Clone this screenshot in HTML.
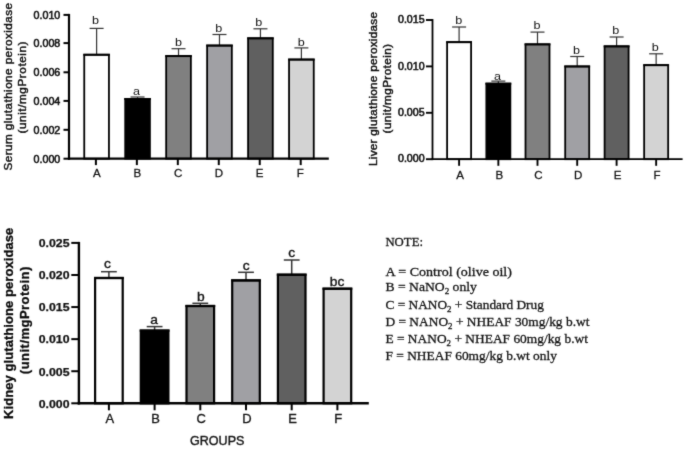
<!DOCTYPE html>
<html><head><meta charset="utf-8"><title>Glutathione peroxidase charts</title>
<style>
html,body{margin:0;padding:0;background:#fff;}
body{width:685px;height:449px;overflow:hidden;font-family:"Liberation Sans", sans-serif;}
svg{display:block;position:absolute;left:0;top:0;}
svg text{font-family:"Liberation Sans", sans-serif;fill:#111;}
svg text.nt{font-family:"Liberation Serif", serif;white-space:pre;}
</style></head>
<body>
<svg width="685" height="449" viewBox="0 0 685 449">
<defs><filter id="soft" x="0" y="0" width="685" height="449" filterUnits="userSpaceOnUse" color-interpolation-filters="sRGB"><feConvolveMatrix order="3" kernelMatrix="0.0200 0.0800 0.0200 0.0800 0.6000 0.0800 0.0200 0.0800 0.0200" divisor="1" bias="0" edgeMode="duplicate" preserveAlpha="true"/></filter></defs>
<g filter="url(#soft)">
<rect x="-5" y="-5" width="695" height="459" fill="#ffffff"/>
<line x1="96.60" y1="54.70" x2="96.60" y2="28.40" stroke="#333" stroke-width="1.2"/>
<line x1="89.60" y1="28.40" x2="103.60" y2="28.40" stroke="#333" stroke-width="1.2"/>
<rect x="84.25" y="54.70" width="24.70" height="104.00" fill="#ffffff" stroke="#000" stroke-width="1.8"/>
<line x1="83.35" y1="54.78" x2="109.85" y2="54.78" stroke="#000" stroke-width="1.95"/>
<text transform="translate(95.60,24.00) scale(1.2,1)" text-anchor="middle" font-size="10.5" font-weight="normal">b</text>
<line x1="137.56" y1="98.90" x2="137.56" y2="97.00" stroke="#333" stroke-width="1.2"/>
<line x1="130.56" y1="97.00" x2="144.56" y2="97.00" stroke="#333" stroke-width="1.2"/>
<rect x="125.21" y="98.90" width="24.70" height="59.80" fill="#000000" stroke="#000" stroke-width="1.8"/>
<line x1="124.31" y1="98.98" x2="150.81" y2="98.98" stroke="#000" stroke-width="1.95"/>
<text transform="translate(136.40,95.10) scale(1.2,1)" text-anchor="middle" font-size="10.5" font-weight="normal">a</text>
<line x1="178.52" y1="56.00" x2="178.52" y2="48.70" stroke="#333" stroke-width="1.2"/>
<line x1="171.52" y1="48.70" x2="185.52" y2="48.70" stroke="#333" stroke-width="1.2"/>
<rect x="166.17" y="56.00" width="24.70" height="102.70" fill="#808080" stroke="#000" stroke-width="1.8"/>
<line x1="165.27" y1="56.08" x2="191.77" y2="56.08" stroke="#000" stroke-width="1.95"/>
<text transform="translate(178.40,45.90) scale(1.2,1)" text-anchor="middle" font-size="10.5" font-weight="normal">b</text>
<line x1="219.48" y1="45.50" x2="219.48" y2="34.50" stroke="#333" stroke-width="1.2"/>
<line x1="212.48" y1="34.50" x2="226.48" y2="34.50" stroke="#333" stroke-width="1.2"/>
<rect x="207.13" y="45.50" width="24.70" height="113.20" fill="#a0a0a4" stroke="#000" stroke-width="1.8"/>
<line x1="206.23" y1="45.58" x2="232.73" y2="45.58" stroke="#000" stroke-width="1.95"/>
<text transform="translate(218.80,32.00) scale(1.2,1)" text-anchor="middle" font-size="10.5" font-weight="normal">b</text>
<line x1="260.44" y1="38.25" x2="260.44" y2="28.80" stroke="#333" stroke-width="1.2"/>
<line x1="253.44" y1="28.80" x2="267.44" y2="28.80" stroke="#333" stroke-width="1.2"/>
<rect x="248.09" y="38.25" width="24.70" height="120.45" fill="#606060" stroke="#000" stroke-width="1.8"/>
<line x1="247.19" y1="38.33" x2="273.69" y2="38.33" stroke="#000" stroke-width="1.95"/>
<text transform="translate(258.80,25.80) scale(1.2,1)" text-anchor="middle" font-size="10.5" font-weight="normal">b</text>
<line x1="301.40" y1="59.50" x2="301.40" y2="47.90" stroke="#333" stroke-width="1.2"/>
<line x1="294.40" y1="47.90" x2="308.40" y2="47.90" stroke="#333" stroke-width="1.2"/>
<rect x="289.05" y="59.50" width="24.70" height="99.20" fill="#d3d3d3" stroke="#000" stroke-width="1.8"/>
<line x1="288.15" y1="59.58" x2="314.65" y2="59.58" stroke="#000" stroke-width="1.95"/>
<text transform="translate(301.30,46.40) scale(1.2,1)" text-anchor="middle" font-size="10.5" font-weight="normal">b</text>
<line x1="69.00" y1="13.90" x2="69.00" y2="159.80" stroke="#000" stroke-width="2.2"/>
<line x1="67.90" y1="158.70" x2="328.80" y2="158.70" stroke="#000" stroke-width="2.2"/>
<line x1="63.50" y1="158.70" x2="69.00" y2="158.70" stroke="#000" stroke-width="2.0"/>
<text x="60.30" y="162.60" text-anchor="end" font-size="10" font-weight="normal" textLength="26.8" lengthAdjust="spacingAndGlyphs" stroke="#111" stroke-width="0.55">0.000</text>
<line x1="63.50" y1="129.80" x2="69.00" y2="129.80" stroke="#000" stroke-width="2.0"/>
<text x="60.30" y="133.70" text-anchor="end" font-size="10" font-weight="normal" textLength="26.8" lengthAdjust="spacingAndGlyphs" stroke="#111" stroke-width="0.55">0.002</text>
<line x1="63.50" y1="100.90" x2="69.00" y2="100.90" stroke="#000" stroke-width="2.0"/>
<text x="60.30" y="104.80" text-anchor="end" font-size="10" font-weight="normal" textLength="26.8" lengthAdjust="spacingAndGlyphs" stroke="#111" stroke-width="0.55">0.004</text>
<line x1="63.50" y1="72.30" x2="69.00" y2="72.30" stroke="#000" stroke-width="2.0"/>
<text x="60.30" y="76.20" text-anchor="end" font-size="10" font-weight="normal" textLength="26.8" lengthAdjust="spacingAndGlyphs" stroke="#111" stroke-width="0.55">0.006</text>
<line x1="63.50" y1="43.10" x2="69.00" y2="43.10" stroke="#000" stroke-width="2.0"/>
<text x="60.30" y="47.00" text-anchor="end" font-size="10" font-weight="normal" textLength="26.8" lengthAdjust="spacingAndGlyphs" stroke="#111" stroke-width="0.55">0.008</text>
<line x1="63.50" y1="14.90" x2="69.00" y2="14.90" stroke="#000" stroke-width="2.0"/>
<text x="60.30" y="18.80" text-anchor="end" font-size="10" font-weight="normal" textLength="26.8" lengthAdjust="spacingAndGlyphs" stroke="#111" stroke-width="0.55">0.010</text>
<line x1="95.90" y1="158.70" x2="95.90" y2="165.10" stroke="#000" stroke-width="2.0"/>
<text transform="translate(96.75,176.96) scale(1.05,1)" text-anchor="middle" font-size="11" font-weight="normal" stroke="#111" stroke-width="0.25">A</text>
<line x1="136.86" y1="158.70" x2="136.86" y2="165.10" stroke="#000" stroke-width="2.0"/>
<text transform="translate(137.45,176.96) scale(1.05,1)" text-anchor="middle" font-size="11" font-weight="normal" stroke="#111" stroke-width="0.25">B</text>
<line x1="177.82" y1="158.70" x2="177.82" y2="165.10" stroke="#000" stroke-width="2.0"/>
<text transform="translate(178.15,176.96) scale(1.05,1)" text-anchor="middle" font-size="11" font-weight="normal" stroke="#111" stroke-width="0.25">C</text>
<line x1="218.78" y1="158.70" x2="218.78" y2="165.10" stroke="#000" stroke-width="2.0"/>
<text transform="translate(218.85,176.96) scale(1.05,1)" text-anchor="middle" font-size="11" font-weight="normal" stroke="#111" stroke-width="0.25">D</text>
<line x1="259.74" y1="158.70" x2="259.74" y2="165.10" stroke="#000" stroke-width="2.0"/>
<text transform="translate(259.55,176.96) scale(1.05,1)" text-anchor="middle" font-size="11" font-weight="normal" stroke="#111" stroke-width="0.25">E</text>
<line x1="300.70" y1="158.70" x2="300.70" y2="165.10" stroke="#000" stroke-width="2.0"/>
<text transform="translate(300.25,176.96) scale(1.05,1)" text-anchor="middle" font-size="11" font-weight="normal" stroke="#111" stroke-width="0.25">F</text>
<text transform="translate(11.80,86.80) rotate(-90) scale(1.12,1)" text-anchor="middle" font-size="10.5" font-weight="normal" textLength="149.55" lengthAdjust="spacing" style="fill:#0e0e0e" stroke="#0e0e0e" stroke-width="0.42">Serum glutathione peroxidase</text>
<text transform="translate(26.00,87.50) rotate(-90) scale(1.12,1)" text-anchor="middle" font-size="10.5" font-weight="normal" textLength="82.14" lengthAdjust="spacing" style="fill:#0e0e0e" stroke="#0e0e0e" stroke-width="0.42">(unit/mgProtein)</text>
<line x1="459.10" y1="42.10" x2="459.10" y2="27.00" stroke="#333" stroke-width="1.2"/>
<line x1="452.10" y1="27.00" x2="466.10" y2="27.00" stroke="#333" stroke-width="1.2"/>
<rect x="447.10" y="42.10" width="24.00" height="117.10" fill="#ffffff" stroke="#000" stroke-width="1.8"/>
<line x1="446.20" y1="42.18" x2="472.00" y2="42.18" stroke="#000" stroke-width="1.95"/>
<text transform="translate(458.70,24.00) scale(1.2,1)" text-anchor="middle" font-size="10.5" font-weight="normal">b</text>
<line x1="498.35" y1="83.60" x2="498.35" y2="81.10" stroke="#333" stroke-width="1.2"/>
<line x1="491.35" y1="81.10" x2="505.35" y2="81.10" stroke="#333" stroke-width="1.2"/>
<rect x="486.35" y="83.60" width="24.00" height="75.60" fill="#000000" stroke="#000" stroke-width="1.8"/>
<line x1="485.45" y1="83.67" x2="511.25" y2="83.67" stroke="#000" stroke-width="1.95"/>
<text transform="translate(497.50,79.70) scale(1.2,1)" text-anchor="middle" font-size="10.5" font-weight="normal">a</text>
<line x1="537.50" y1="44.30" x2="537.50" y2="32.10" stroke="#333" stroke-width="1.2"/>
<line x1="530.50" y1="32.10" x2="544.50" y2="32.10" stroke="#333" stroke-width="1.2"/>
<rect x="525.50" y="44.30" width="24.00" height="114.90" fill="#808080" stroke="#000" stroke-width="1.8"/>
<line x1="524.60" y1="44.38" x2="550.40" y2="44.38" stroke="#000" stroke-width="1.95"/>
<text transform="translate(537.00,29.30) scale(1.2,1)" text-anchor="middle" font-size="10.5" font-weight="normal">b</text>
<line x1="577.20" y1="66.40" x2="577.20" y2="56.50" stroke="#333" stroke-width="1.2"/>
<line x1="570.20" y1="56.50" x2="584.20" y2="56.50" stroke="#333" stroke-width="1.2"/>
<rect x="565.20" y="66.40" width="24.00" height="92.80" fill="#a0a0a4" stroke="#000" stroke-width="1.8"/>
<line x1="564.30" y1="66.48" x2="590.10" y2="66.48" stroke="#000" stroke-width="1.95"/>
<text transform="translate(576.60,53.80) scale(1.2,1)" text-anchor="middle" font-size="10.5" font-weight="normal">b</text>
<line x1="616.60" y1="46.30" x2="616.60" y2="37.00" stroke="#333" stroke-width="1.2"/>
<line x1="609.60" y1="37.00" x2="623.60" y2="37.00" stroke="#333" stroke-width="1.2"/>
<rect x="604.60" y="46.30" width="24.00" height="112.90" fill="#606060" stroke="#000" stroke-width="1.8"/>
<line x1="603.70" y1="46.38" x2="629.50" y2="46.38" stroke="#000" stroke-width="1.95"/>
<text transform="translate(615.80,34.05) scale(1.2,1)" text-anchor="middle" font-size="10.5" font-weight="normal">b</text>
<line x1="656.15" y1="65.10" x2="656.15" y2="53.80" stroke="#333" stroke-width="1.2"/>
<line x1="649.15" y1="53.80" x2="663.15" y2="53.80" stroke="#333" stroke-width="1.2"/>
<rect x="644.15" y="65.10" width="24.00" height="94.10" fill="#d3d3d3" stroke="#000" stroke-width="1.8"/>
<line x1="643.25" y1="65.17" x2="669.05" y2="65.17" stroke="#000" stroke-width="1.95"/>
<text transform="translate(655.20,50.70) scale(1.2,1)" text-anchor="middle" font-size="10.5" font-weight="normal">b</text>
<line x1="432.50" y1="19.05" x2="432.50" y2="160.10" stroke="#000" stroke-width="1.8"/>
<line x1="431.60" y1="159.20" x2="682.60" y2="159.20" stroke="#000" stroke-width="1.8"/>
<line x1="426.00" y1="159.20" x2="432.50" y2="159.20" stroke="#000" stroke-width="1.9"/>
<text x="424.60" y="162.30" text-anchor="end" font-size="10" font-weight="normal" textLength="26.6" lengthAdjust="spacingAndGlyphs" stroke="#111" stroke-width="0.55">0.000</text>
<line x1="426.00" y1="112.80" x2="432.50" y2="112.80" stroke="#000" stroke-width="1.9"/>
<text x="424.60" y="115.90" text-anchor="end" font-size="10" font-weight="normal" textLength="26.6" lengthAdjust="spacingAndGlyphs" stroke="#111" stroke-width="0.55">0.005</text>
<line x1="426.00" y1="66.40" x2="432.50" y2="66.40" stroke="#000" stroke-width="1.9"/>
<text x="424.60" y="69.50" text-anchor="end" font-size="10" font-weight="normal" textLength="26.6" lengthAdjust="spacingAndGlyphs" stroke="#111" stroke-width="0.55">0.010</text>
<line x1="426.00" y1="20.00" x2="432.50" y2="20.00" stroke="#000" stroke-width="1.9"/>
<text x="424.60" y="23.10" text-anchor="end" font-size="10" font-weight="normal" textLength="26.6" lengthAdjust="spacingAndGlyphs" stroke="#111" stroke-width="0.55">0.015</text>
<line x1="459.10" y1="159.20" x2="459.10" y2="165.80" stroke="#000" stroke-width="1.9"/>
<text transform="translate(460.00,178.86) scale(1.05,1)" text-anchor="middle" font-size="11" font-weight="normal" stroke="#111" stroke-width="0.25">A</text>
<line x1="498.35" y1="159.20" x2="498.35" y2="165.80" stroke="#000" stroke-width="1.9"/>
<text transform="translate(499.25,178.86) scale(1.05,1)" text-anchor="middle" font-size="11" font-weight="normal" stroke="#111" stroke-width="0.25">B</text>
<line x1="537.50" y1="159.20" x2="537.50" y2="165.80" stroke="#000" stroke-width="1.9"/>
<text transform="translate(538.40,178.86) scale(1.05,1)" text-anchor="middle" font-size="11" font-weight="normal" stroke="#111" stroke-width="0.25">C</text>
<line x1="577.20" y1="159.20" x2="577.20" y2="165.80" stroke="#000" stroke-width="1.9"/>
<text transform="translate(578.10,178.86) scale(1.05,1)" text-anchor="middle" font-size="11" font-weight="normal" stroke="#111" stroke-width="0.25">D</text>
<line x1="616.60" y1="159.20" x2="616.60" y2="165.80" stroke="#000" stroke-width="1.9"/>
<text transform="translate(617.50,178.86) scale(1.05,1)" text-anchor="middle" font-size="11" font-weight="normal" stroke="#111" stroke-width="0.25">E</text>
<line x1="656.15" y1="159.20" x2="656.15" y2="165.80" stroke="#000" stroke-width="1.9"/>
<text transform="translate(657.05,178.86) scale(1.05,1)" text-anchor="middle" font-size="11" font-weight="normal" stroke="#111" stroke-width="0.25">F</text>
<text transform="translate(377.30,89.00) rotate(-90) scale(1.12,1)" text-anchor="middle" font-size="10.5" font-weight="normal" textLength="137.50" lengthAdjust="spacing" style="fill:#0e0e0e" stroke="#0e0e0e" stroke-width="0.42">Liver glutathione peroxidase</text>
<text transform="translate(391.00,88.70) rotate(-90) scale(1.12,1)" text-anchor="middle" font-size="10.5" font-weight="normal" textLength="79.82" lengthAdjust="spacing" style="fill:#0e0e0e" stroke="#0e0e0e" stroke-width="0.42">(unit/mgProtein)</text>
<line x1="108.90" y1="278.00" x2="108.90" y2="271.70" stroke="#333" stroke-width="1.5"/>
<line x1="101.00" y1="271.70" x2="116.80" y2="271.70" stroke="#333" stroke-width="1.5"/>
<rect x="95.10" y="278.00" width="27.60" height="125.30" fill="#ffffff" stroke="#000" stroke-width="2.2"/>
<line x1="94.00" y1="278.00" x2="123.80" y2="278.00" stroke="#000" stroke-width="2.2"/>
<text transform="translate(107.50,267.90) scale(1.15,1)" text-anchor="middle" font-size="12" font-weight="normal" stroke="#111" stroke-width="0.35">c</text>
<line x1="154.60" y1="330.60" x2="154.60" y2="326.60" stroke="#333" stroke-width="1.5"/>
<line x1="146.70" y1="326.60" x2="162.50" y2="326.60" stroke="#333" stroke-width="1.5"/>
<rect x="140.80" y="330.60" width="27.60" height="72.70" fill="#000000" stroke="#000" stroke-width="2.2"/>
<line x1="139.70" y1="330.60" x2="169.50" y2="330.60" stroke="#000" stroke-width="2.2"/>
<text transform="translate(154.00,324.00) scale(1.15,1)" text-anchor="middle" font-size="12" font-weight="normal" stroke="#111" stroke-width="0.35">a</text>
<line x1="200.30" y1="306.00" x2="200.30" y2="303.30" stroke="#333" stroke-width="1.5"/>
<line x1="192.40" y1="303.30" x2="208.20" y2="303.30" stroke="#333" stroke-width="1.5"/>
<rect x="186.50" y="306.00" width="27.60" height="97.30" fill="#808080" stroke="#000" stroke-width="2.2"/>
<line x1="185.40" y1="306.00" x2="215.20" y2="306.00" stroke="#000" stroke-width="2.2"/>
<text transform="translate(200.80,300.50) scale(1.15,1)" text-anchor="middle" font-size="12" font-weight="normal" stroke="#111" stroke-width="0.35">b</text>
<line x1="246.00" y1="280.40" x2="246.00" y2="272.30" stroke="#333" stroke-width="1.5"/>
<line x1="238.10" y1="272.30" x2="253.90" y2="272.30" stroke="#333" stroke-width="1.5"/>
<rect x="232.20" y="280.40" width="27.60" height="122.90" fill="#a0a0a4" stroke="#000" stroke-width="2.2"/>
<line x1="231.10" y1="280.40" x2="260.90" y2="280.40" stroke="#000" stroke-width="2.2"/>
<text transform="translate(246.30,269.60) scale(1.15,1)" text-anchor="middle" font-size="12" font-weight="normal" stroke="#111" stroke-width="0.35">c</text>
<line x1="291.70" y1="274.70" x2="291.70" y2="260.00" stroke="#333" stroke-width="1.5"/>
<line x1="283.80" y1="260.00" x2="299.60" y2="260.00" stroke="#333" stroke-width="1.5"/>
<rect x="277.90" y="274.70" width="27.60" height="128.60" fill="#606060" stroke="#000" stroke-width="2.2"/>
<line x1="276.80" y1="274.70" x2="306.60" y2="274.70" stroke="#000" stroke-width="2.2"/>
<text transform="translate(291.70,256.80) scale(1.15,1)" text-anchor="middle" font-size="12" font-weight="normal" stroke="#111" stroke-width="0.35">c</text>
<rect x="323.60" y="288.70" width="27.60" height="114.60" fill="#d3d3d3" stroke="#000" stroke-width="2.2"/>
<line x1="322.50" y1="288.70" x2="352.30" y2="288.70" stroke="#000" stroke-width="2.2"/>
<text transform="translate(337.00,285.70) scale(1.15,1)" text-anchor="middle" font-size="12" font-weight="normal" stroke="#111" stroke-width="0.35">bc</text>
<line x1="78.90" y1="241.90" x2="78.90" y2="404.50" stroke="#000" stroke-width="2.4"/>
<line x1="77.70" y1="403.30" x2="368.80" y2="403.30" stroke="#000" stroke-width="2.4"/>
<line x1="71.30" y1="403.30" x2="78.90" y2="403.30" stroke="#000" stroke-width="2.0"/>
<text x="69.50" y="407.58" text-anchor="end" font-size="10.5" font-weight="bold" textLength="30.8" lengthAdjust="spacingAndGlyphs" stroke="#111" stroke-width="0.25">0.000</text>
<line x1="71.30" y1="371.22" x2="78.90" y2="371.22" stroke="#000" stroke-width="2.0"/>
<text x="69.50" y="375.50" text-anchor="end" font-size="10.5" font-weight="bold" textLength="30.8" lengthAdjust="spacingAndGlyphs" stroke="#111" stroke-width="0.25">0.005</text>
<line x1="71.30" y1="339.14" x2="78.90" y2="339.14" stroke="#000" stroke-width="2.0"/>
<text x="69.50" y="343.42" text-anchor="end" font-size="10.5" font-weight="bold" textLength="30.8" lengthAdjust="spacingAndGlyphs" stroke="#111" stroke-width="0.25">0.010</text>
<line x1="71.30" y1="307.06" x2="78.90" y2="307.06" stroke="#000" stroke-width="2.0"/>
<text x="69.50" y="311.34" text-anchor="end" font-size="10.5" font-weight="bold" textLength="30.8" lengthAdjust="spacingAndGlyphs" stroke="#111" stroke-width="0.25">0.015</text>
<line x1="71.30" y1="274.98" x2="78.90" y2="274.98" stroke="#000" stroke-width="2.0"/>
<text x="69.50" y="279.26" text-anchor="end" font-size="10.5" font-weight="bold" textLength="30.8" lengthAdjust="spacingAndGlyphs" stroke="#111" stroke-width="0.25">0.020</text>
<line x1="71.30" y1="242.90" x2="78.90" y2="242.90" stroke="#000" stroke-width="2.0"/>
<text x="69.50" y="247.18" text-anchor="end" font-size="10.5" font-weight="bold" textLength="30.8" lengthAdjust="spacingAndGlyphs" stroke="#111" stroke-width="0.25">0.025</text>
<line x1="108.90" y1="403.30" x2="108.90" y2="410.30" stroke="#000" stroke-width="2.0"/>
<text transform="translate(109.80,423.12) scale(1.08,1)" text-anchor="middle" font-size="12" font-weight="normal" stroke="#111" stroke-width="0.3">A</text>
<line x1="154.60" y1="403.30" x2="154.60" y2="410.30" stroke="#000" stroke-width="2.0"/>
<text transform="translate(155.50,423.12) scale(1.08,1)" text-anchor="middle" font-size="12" font-weight="normal" stroke="#111" stroke-width="0.3">B</text>
<line x1="200.30" y1="403.30" x2="200.30" y2="410.30" stroke="#000" stroke-width="2.0"/>
<text transform="translate(201.20,423.12) scale(1.08,1)" text-anchor="middle" font-size="12" font-weight="normal" stroke="#111" stroke-width="0.3">C</text>
<line x1="246.00" y1="403.30" x2="246.00" y2="410.30" stroke="#000" stroke-width="2.0"/>
<text transform="translate(246.90,423.12) scale(1.08,1)" text-anchor="middle" font-size="12" font-weight="normal" stroke="#111" stroke-width="0.3">D</text>
<line x1="291.70" y1="403.30" x2="291.70" y2="410.30" stroke="#000" stroke-width="2.0"/>
<text transform="translate(292.60,423.12) scale(1.08,1)" text-anchor="middle" font-size="12" font-weight="normal" stroke="#111" stroke-width="0.3">E</text>
<line x1="337.40" y1="403.30" x2="337.40" y2="410.30" stroke="#000" stroke-width="2.0"/>
<text transform="translate(338.30,423.12) scale(1.08,1)" text-anchor="middle" font-size="12" font-weight="normal" stroke="#111" stroke-width="0.3">F</text>
<text transform="translate(13.20,323.30) rotate(-90) scale(1.0,1)" text-anchor="middle" font-size="13" font-weight="bold" textLength="191.30" lengthAdjust="spacing" style="fill:#0a0a0a" stroke="#0a0a0a" stroke-width="0.3">Kidney glutathione peroxidase</text>
<text transform="translate(28.80,320.40) rotate(-90) scale(1.0,1)" text-anchor="middle" font-size="13" font-weight="bold" textLength="107.50" lengthAdjust="spacing" style="fill:#0a0a0a" stroke="#0a0a0a" stroke-width="0.3">(unit/mgProtein)</text>
<text x="217.2" y="445.3" text-anchor="middle" font-size="12" textLength="54.3" lengthAdjust="spacingAndGlyphs" stroke="#1a1a1a" stroke-width="0.4">GROUPS</text>
<text class="nt" transform="translate(385.4,246) scale(1,1.08)" font-size="12.5" textLength="37.6" lengthAdjust="spacingAndGlyphs" stroke="#151515" stroke-width="0.28" style="fill:#151515">NOTE:</text>
<text class="nt" transform="translate(385.4,276.3) scale(1,1.08)" font-size="12.5" textLength="126.5" lengthAdjust="spacingAndGlyphs" stroke="#151515" stroke-width="0.28" style="fill:#151515">A = Control (olive oil)</text>
<text class="nt" transform="translate(385.4,291.1) scale(1,1.08)" font-size="12.5" textLength="91.5" lengthAdjust="spacingAndGlyphs" stroke="#151515" stroke-width="0.28" style="fill:#151515">B = NaNO<tspan dy="2.7" font-size="8.3">2</tspan><tspan dy="-2.7"> only</tspan></text>
<text class="nt" transform="translate(385.4,308.7) scale(1,1.08)" font-size="12.5" textLength="158.5" lengthAdjust="spacingAndGlyphs" stroke="#151515" stroke-width="0.28" style="fill:#151515">C = NANO<tspan dy="2.7" font-size="8.3">2</tspan><tspan dy="-2.7"> + Standard Drug</tspan></text>
<text class="nt" transform="translate(385.4,326.1) scale(1,1.08)" font-size="12.5" textLength="204" lengthAdjust="spacingAndGlyphs" stroke="#151515" stroke-width="0.28" style="fill:#151515">D = NANO<tspan dy="2.7" font-size="8.3">2</tspan><tspan dy="-2.7"> + NHEAF 30mg/kg b.wt</tspan></text>
<text class="nt" transform="translate(385.4,343.1) scale(1,1.08)" font-size="12.5" textLength="202.5" lengthAdjust="spacingAndGlyphs" stroke="#151515" stroke-width="0.28" style="fill:#151515">E = NANO<tspan dy="2.7" font-size="8.3">2</tspan><tspan dy="-2.7"> + NHEAF 60mg/kg b.wt</tspan></text>
<text class="nt" transform="translate(385.4,360.3) scale(1,1.08)" font-size="12.5" textLength="171.5" lengthAdjust="spacingAndGlyphs" stroke="#151515" stroke-width="0.28" style="fill:#151515">F = NHEAF 60mg/kg b.wt only</text>
</g>
</svg>
</body></html>
